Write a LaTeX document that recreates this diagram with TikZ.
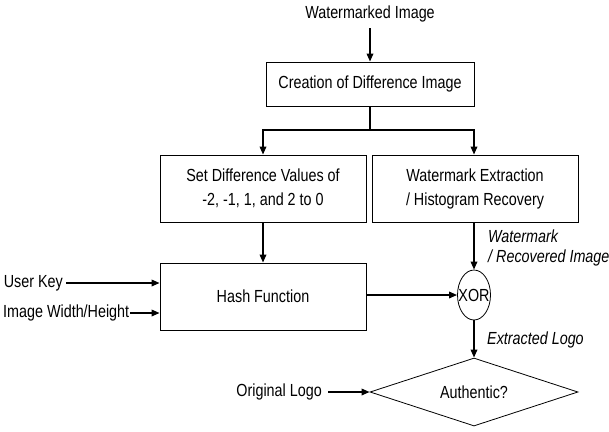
\documentclass[tikz,border=0pt]{standalone}
\usepackage{fontspec}
\setmainfont[FakeStretch=0.82]{Liberation Sans}
\usetikzlibrary{shapes.geometric,arrows.meta}
\newcommand\mysize{\fontsize{17.5}{24}\selectfont}
\tikzset{
  box/.style={draw, line width=0.8pt, inner sep=0pt, align=center},
  arr/.style={line width=1.7pt, -{Triangle[length=8pt,width=6.5pt]}},
  ln/.style={line width=1.7pt},
  lbl/.style={font=\mysize\itshape, anchor=west, inner sep=0pt},
  txt/.style={inner sep=0pt}
}
\begin{document}
\begin{tikzpicture}[x=1pt,y=-1pt,font=\mysize]
\useasboundingbox (0,0) rectangle (609,431);
\node[txt] (wm) at (370,14) {Watermarked Image};
\node[box, minimum width=208pt, minimum height=44pt] (cre) at (370,84) {Creation of Difference Image};
\coordinate (split) at (370,130);
\node[box, minimum width=206pt, minimum height=67pt] (sd) at (263,188.5) {Set Difference Values of\\-2, -1, 1, and 2 to 0};
\node[box, minimum width=206pt, minimum height=67pt] (we) at (475,188.5) {Watermark Extraction\\/ Histogram Recovery};
\node[box, minimum width=206pt, minimum height=67pt] (hash) at (263,296.5) {Hash Function};
\node[draw, line width=0.8pt, ellipse, minimum width=33pt, minimum height=50pt, inner sep=0pt, label={center:XOR}] (xor) at (474,295) {};
\node[draw, line width=0.8pt, diamond, aspect=3.06, minimum width=208pt, minimum height=68pt, inner sep=0pt] (auth) at (474,392) {Authentic?};
\node[txt, anchor=east] (uk) at (63,283) {User Key};
\node[txt, anchor=west] (iwh) at (3,313) {Image Width/Height};
\node[txt, anchor=east] (ol) at (322,392) {Original Logo};
\node[lbl] (wml1) at (488,236) {Watermark};
\node[lbl] (wml2) at (488,258) {/ Recovered Image};
\node[lbl] (exl) at (487,340) {Extracted Logo};

\draw[arr] (wm.south) ++(0,6) -- (cre.north);
\draw[ln] (cre.south) -- (split);
\draw[arr] (split) -| (sd.north);
\draw[arr] (split) -| (we.north -| xor.north);
\draw[arr] (sd.south) -- (hash.north);
\draw[arr] (we.south -| xor.north) -- (xor.north);
\draw[arr] (hash.east |- xor.west) -- (xor.west);
\draw[arr] (xor.south) -- (auth.north);
\draw[arr] ([xshift=3pt]uk.east) -- (hash.west |- uk.east);
\draw[arr] ([xshift=1pt]iwh.east) -- (hash.west |- iwh.east);
\draw[arr] ([xshift=6pt]ol.east) -- (auth.west);
\end{tikzpicture}
\end{document}
